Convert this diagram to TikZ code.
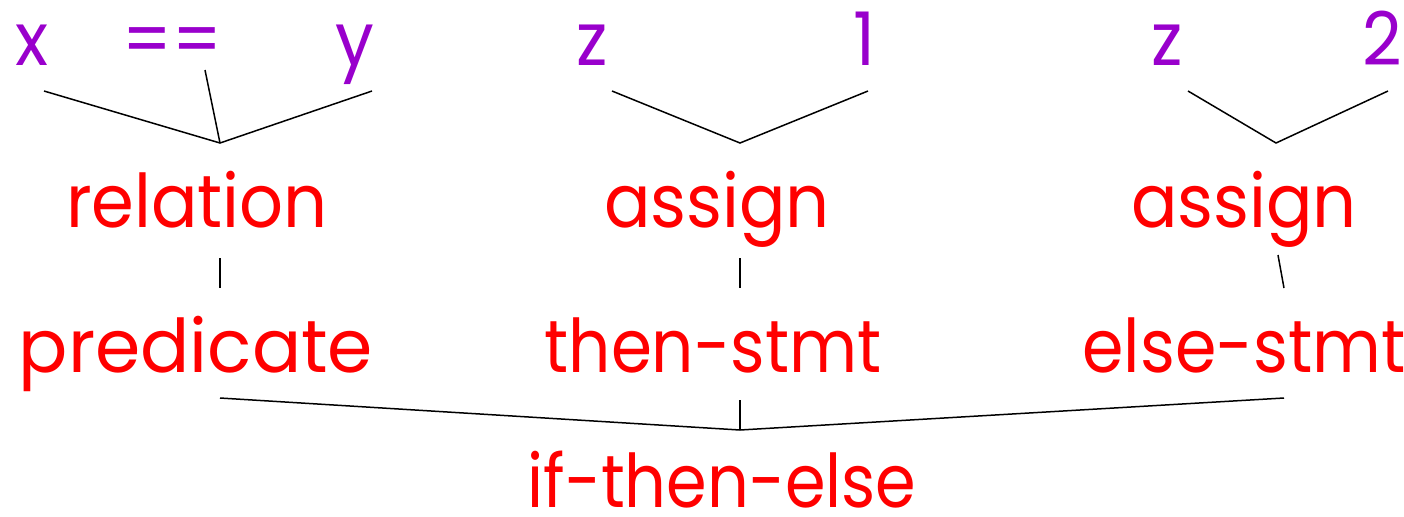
\documentclass[tikz,border=0pt]{standalone}
\usepackage{fontspec}
\setmainfont[FakeStretch=0.93]{Poppins}
\definecolor{tokpurple}{HTML}{9900CC}
\definecolor{ntred}{HTML}{FF0000}
\begin{document}
\begin{tikzpicture}[x=0.5pt,y=-0.5pt,
  tok/.style={text=tokpurple,inner sep=0pt,anchor=base,font=\fontsize{37pt}{40pt}\selectfont},
  nt/.style={text=ntred,inner sep=0pt,anchor=base,font=\fontsize{37pt}{40pt}\selectfont},
  edge/.style={draw=black,line width=0.75pt}]
\useasboundingbox (0,0) rectangle (1404,516);
% tokens
\node[tok] (x) at (32,65) {x};
\node[tok] (eq) at (172,65) {==};
\node[tok] (y) at (355,65) {y};
\node[tok] (z1) at (592,65) {z};
\node[tok] (one) at (865,65) {1};
\node[tok] (z2) at (1167,65) {z};
\node[tok] (two) at (1382,65) {2};
% nonterminals
\node[nt] (rel) at (197,227) {relation};
\node[nt] (as1) at (717,227) {assign};
\node[nt] (as2) at (1244,227) {assign};
\node[nt] (pred) at (196,372) {\scalebox{1.06}[1]{predicate}};
\node[nt] (then) at (713,372) {\scalebox{0.96}[1]{then-stmt}};
\node[nt] (else) at (1244,372) {\scalebox{0.97}[1]{else-stmt}};
\node[nt,text depth=0pt] (ite) at (722,507) {\scalebox{0.95}[1]{if-then-else}};
% connector points
\coordinate (xb) at (44,91);
\coordinate (eqb) at (205,70);
\coordinate (yb) at (372,91);
\coordinate (relt) at (220,143);
\coordinate (z1b) at (612,91);
\coordinate (oneb) at (868,91);
\coordinate (as1t) at (740,143);
\coordinate (z2b) at (1188,91);
\coordinate (twob) at (1388,91);
\coordinate (as2t) at (1276,143);
\coordinate (relb) at (220,258);
\coordinate (predt) at (220,288);
\coordinate (as1b) at (740,258);
\coordinate (thent) at (740,288);
\coordinate (as2b) at (1278,255);
\coordinate (elset) at (1284,288);
\coordinate (predb) at (220,398);
\coordinate (thenb) at (740,400);
\coordinate (elseb) at (1284,398);
\coordinate (itet) at (740,430);
% connectors
\draw[edge] (xb) -- (relt) -- (yb);
\draw[edge] (eqb) -- (relt);
\draw[edge] (z1b) -- (as1t) -- (oneb);
\draw[edge] (z2b) -- (as2t) -- (twob);
\draw[edge] (relb) -- (predt);
\draw[edge] (as1b) -- (thent);
\draw[edge] (as2b) -- (elset);
\draw[edge] (predb) -- (itet) -- (elseb);
\draw[edge] (thenb) -- (itet);
\end{tikzpicture}
\end{document}
